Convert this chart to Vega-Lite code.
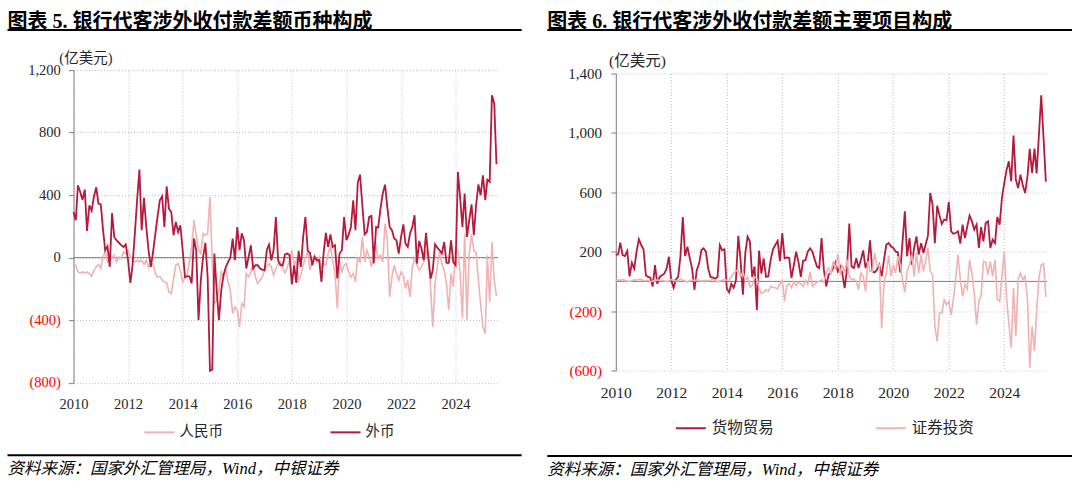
{
  "$schema": "https://vega.github.io/schema/vega-lite/v6.json",
  "background": "white",
  "padding": {"left": 7.5, "top": 11, "right": 0, "bottom": 0},
  "config": {"view": {"stroke": null}},
  "datasets": {
    "cur": [
      {"d":"2010-01","人民币":-38,"外币":292},{"d":"2010-02","人民币":-49,"外币":239},{"d":"2010-03","人民币":-92,"外币":463},{"d":"2010-04","人民币":-98,"外币":420},{"d":"2010-05","人民币":-92,"外币":370},{"d":"2010-06","人民币":-98,"外币":435},{"d":"2010-07","人民币":-92,"外币":170},{"d":"2010-08","人民币":-102,"外币":335},{"d":"2010-09","人民币":-120,"外币":300},{"d":"2010-10","人民币":-81,"外币":390},{"d":"2010-11","人民币":-60,"外币":450},{"d":"2010-12","人民币":-45,"外币":345},
      {"d":"2011-01","人民币":-70,"外币":340},{"d":"2011-02","人民币":4,"外币":175},{"d":"2011-03","人民币":36,"外币":47},{"d":"2011-04","人民币":-28,"外币":72},{"d":"2011-05","人民币":-17,"外币":-60},{"d":"2011-06","人民币":0,"外币":285},{"d":"2011-07","人民币":15,"外币":130},{"d":"2011-08","人民币":-28,"外币":110},{"d":"2011-09","人民币":4,"外币":95},{"d":"2011-10","人民币":-6,"外币":80},{"d":"2011-11","人民币":36,"外币":68},{"d":"2011-12","人民币":26,"外币":85},
      {"d":"2012-01","人民币":47,"外币":-17},{"d":"2012-02","人民币":9,"外币":-162},{"d":"2012-03","人民币":-17,"外币":-50},{"d":"2012-04","人民币":-28,"外币":155},{"d":"2012-05","人民币":-17,"外币":367},{"d":"2012-06","人民币":-28,"外币":563},{"d":"2012-07","人民币":-17,"外币":175},{"d":"2012-08","人民币":-43,"外币":382},{"d":"2012-09","人民币":-17,"外币":196},{"d":"2012-10","人民币":-60,"外币":47},{"d":"2012-11","人民币":-28,"外币":-60},{"d":"2012-12","人民币":-49,"外币":36},
      {"d":"2013-01","人民币":-102,"外币":155},{"d":"2013-02","人民币":-124,"外币":270},{"d":"2013-03","人民币":-120,"外币":367},{"d":"2013-04","人民币":-145,"外币":392},{"d":"2013-05","人民币":-156,"外币":196},{"d":"2013-06","人民币":-162,"外币":456},{"d":"2013-07","人民币":-220,"外币":313},{"d":"2013-08","人民币":-230,"外币":292},{"d":"2013-09","人民币":-134,"外币":143},{"d":"2013-10","人民币":-49,"外币":228},{"d":"2013-11","人民币":-38,"外币":164},{"d":"2013-12","人民币":-81,"外币":207},
      {"d":"2014-01","人民币":-156,"外币":47},{"d":"2014-02","人民币":-130,"外币":-124},{"d":"2014-03","人民币":-113,"外币":-120},{"d":"2014-04","人民币":-28,"外币":-120},{"d":"2014-05","人民币":68,"外币":-166},{"d":"2014-06","人民币":239,"外币":122},{"d":"2014-07","人民币":143,"外币":47},{"d":"2014-08","人民币":47,"外币":-400},{"d":"2014-09","人民币":26,"外币":-145},{"d":"2014-10","人民币":154,"外币":4},{"d":"2014-11","人民币":143,"外币":94},{"d":"2014-12","人民币":154,"外币":-124},
      {"d":"2015-01","人民币":388,"外币":-725},{"d":"2015-02","人民币":-38,"外币":-717},{"d":"2015-03","人民币":-294,"外币":26},{"d":"2015-04","人民币":-273,"外币":-209},{"d":"2015-05","人民币":-209,"外币":-400},{"d":"2015-06","人民币":-92,"外币":-209},{"d":"2015-07","人民币":-124,"外币":-113},{"d":"2015-08","人民币":-70,"外币":-60},{"d":"2015-09","人民币":-156,"外币":-28},{"d":"2015-10","人民币":-209,"外币":0},{"d":"2015-11","人民币":-358,"外币":122},{"d":"2015-12","人民币":-316,"外币":-17},
      {"d":"2016-01","人民币":-337,"外币":196},{"d":"2016-02","人民币":-444,"外币":47},{"d":"2016-03","人民币":-294,"外币":155},{"d":"2016-04","人民币":-316,"外币":110},{"d":"2016-05","人民币":-102,"外币":-70},{"d":"2016-06","人民币":-124,"外币":4},{"d":"2016-07","人民币":-92,"外币":79},{"d":"2016-08","人民币":-38,"外币":-70},{"d":"2016-09","人民币":-124,"外币":-49},{"d":"2016-10","人民币":-166,"外币":-49},{"d":"2016-11","人民币":-145,"外币":-70},{"d":"2016-12","人民币":-124,"外币":-77},
      {"d":"2017-01","人民币":-81,"外币":-81},{"d":"2017-02","人民币":-55,"外币":51},{"d":"2017-03","人民币":-38,"外币":83},{"d":"2017-04","人民币":-60,"外币":-17},{"d":"2017-05","人民币":-113,"外币":47},{"d":"2017-06","人民币":-70,"外币":260},{"d":"2017-07","人民币":-38,"外币":-17},{"d":"2017-08","人民币":-28,"外币":-49},{"d":"2017-09","人民币":-70,"外币":-49},{"d":"2017-10","人民币":-98,"外币":21},{"d":"2017-11","人民币":-60,"外币":26},{"d":"2017-12","人民币":-17,"外币":15},
      {"d":"2018-01","人民币":47,"外币":-171},{"d":"2018-02","人民币":-49,"外币":-49},{"d":"2018-03","人民币":-17,"外币":-162},{"d":"2018-04","人民币":-145,"外币":43},{"d":"2018-05","人民币":-113,"外币":-60},{"d":"2018-06","人民币":-49,"外币":132},{"d":"2018-07","人民币":-6,"外币":260},{"d":"2018-08","人民币":36,"外币":43},{"d":"2018-09","人民币":-81,"外币":30},{"d":"2018-10","人民币":-17,"外币":-49},{"d":"2018-11","人民币":15,"外币":4},{"d":"2018-12","人民币":-28,"外币":-17},
      {"d":"2019-01","人民币":4,"外币":-17},{"d":"2019-02","人民币":-60,"外币":-156},{"d":"2019-03","人民币":-38,"外币":26},{"d":"2019-04","人民币":-49,"外币":158},{"d":"2019-05","人民币":26,"外币":68},{"d":"2019-06","人民币":68,"外币":149},{"d":"2019-07","人民币":-17,"外币":68},{"d":"2019-08","人民币":-102,"外币":79},{"d":"2019-09","人民币":-326,"外币":-134},{"d":"2019-10","人民币":-17,"外币":26},{"d":"2019-11","人民币":-92,"外币":47},{"d":"2019-12","人民币":-49,"外币":260},
      {"d":"2020-01","人民币":-38,"外币":111},{"d":"2020-02","人民币":-92,"外币":147},{"d":"2020-03","人民币":-124,"外币":196},{"d":"2020-04","人民币":-102,"外币":367},{"d":"2020-05","人民币":-156,"外币":175},{"d":"2020-06","人民币":4,"外币":480},{"d":"2020-07","人民币":-34,"外币":531},{"d":"2020-08","人民币":132,"外币":335},{"d":"2020-09","人民币":-28,"外币":149},{"d":"2020-10","人民币":47,"外币":164},{"d":"2020-11","人民币":4,"外币":260},{"d":"2020-12","人民币":-60,"外币":267},
      {"d":"2021-01","人民币":26,"外币":-38},{"d":"2021-02","人民币":68,"外币":196},{"d":"2021-03","人民币":-6,"外币":192},{"d":"2021-04","人民币":15,"外币":313},{"d":"2021-05","人民币":-28,"外币":410},{"d":"2021-06","人民币":218,"外币":467},{"d":"2021-07","人民币":122,"外币":324},{"d":"2021-08","人民币":-252,"外币":196},{"d":"2021-09","人民币":-124,"外币":175},{"d":"2021-10","人民币":-49,"外币":122},{"d":"2021-11","人民币":-102,"外币":111},{"d":"2021-12","人民币":-145,"外币":26},
      {"d":"2022-01","人民币":-92,"外币":132},{"d":"2022-02","人民币":-113,"外币":213},{"d":"2022-03","人民币":-198,"外币":90},{"d":"2022-04","人民币":-145,"外币":68},{"d":"2022-05","人民币":-252,"外币":154},{"d":"2022-06","人民币":-60,"外币":196},{"d":"2022-07","人民币":-6,"外币":271},{"d":"2022-08","人民币":-49,"外币":-38},{"d":"2022-09","人民币":-81,"外币":107},{"d":"2022-10","人民币":-60,"外币":58},{"d":"2022-11","人民币":-28,"外币":-17},{"d":"2022-12","人民币":47,"外币":158},
      {"d":"2023-01","人民币":-6,"外币":4},{"d":"2023-02","人民币":-200,"外币":-134},{"d":"2023-03","人民币":-444,"外币":-81},{"d":"2023-04","人民币":-166,"外币":85},{"d":"2023-05","人民币":-60,"外币":64},{"d":"2023-06","人民币":36,"外币":47},{"d":"2023-07","人民币":-38,"外币":26},{"d":"2023-08","人民币":-81,"外币":100},{"d":"2023-09","人民币":-166,"外币":-34},{"d":"2023-10","人民币":-337,"外币":-34},{"d":"2023-11","人民币":-102,"外币":111},{"d":"2023-12","人民币":-188,"外币":-28},
      {"d":"2024-01","人民币":58,"外币":-49},{"d":"2024-02","人民币":47,"外币":548},{"d":"2024-03","人民币":-100,"外币":388},{"d":"2024-04","人民币":-390,"外币":196},{"d":"2024-05","人民币":154,"外币":410},{"d":"2024-06","人民币":-397,"外币":132},{"d":"2024-07","人民币":26,"外币":239},{"d":"2024-08","人民币":149,"外币":341},{"d":"2024-09","人民币":47,"外币":143},{"d":"2024-10","人民币":30,"外币":335},{"d":"2024-11","人民币":-145,"外币":469},{"d":"2024-12","人民币":-300,"外币":399},
      {"d":"2025-01","人民币":-444,"外币":527},{"d":"2025-02","人民币":-486,"外币":367},{"d":"2025-03","人民币":15,"外币":499},{"d":"2025-04","人民币":-284,"外币":484},{"d":"2025-05","人民币":100,"外币":1039},{"d":"2025-06","人民币":-145,"外币":986},{"d":"2025-07","人民币":-247,"外币":597}
    ],
    "item": [
      {"d":"2010-01","货物贸易":177,"证券投资":5},{"d":"2010-02","货物贸易":184,"证券投资":10},{"d":"2010-03","货物贸易":261,"证券投资":8},{"d":"2010-04","货物贸易":177,"证券投资":12},{"d":"2010-05","货物贸易":170,"证券投资":6},{"d":"2010-06","货物贸易":205,"证券投资":3},{"d":"2010-07","货物贸易":34,"证券投资":-2},{"d":"2010-08","货物贸易":125,"证券投资":5},{"d":"2010-09","货物贸易":86,"证券投资":10},{"d":"2010-10","货物贸易":200,"证券投资":8},{"d":"2010-11","货物贸易":284,"证券投资":14},{"d":"2010-12","货物贸易":245,"证券投资":12},
      {"d":"2011-01","货物贸易":216,"证券投资":6},{"d":"2011-02","货物贸易":41,"证券投资":4},{"d":"2011-03","货物贸易":30,"证券投资":8},{"d":"2011-04","货物贸易":25,"证券投资":-3},{"d":"2011-05","货物贸易":-34,"证券投资":2},{"d":"2011-06","货物贸易":109,"证券投资":5},{"d":"2011-07","货物贸易":-16,"证券投资":10},{"d":"2011-08","货物贸易":30,"证券投资":6},{"d":"2011-09","货物贸易":41,"证券投资":8},{"d":"2011-10","货物贸易":52,"证券投资":3},{"d":"2011-11","货物贸易":86,"证券投资":-2},{"d":"2011-12","货物贸易":166,"证券投资":5},
      {"d":"2012-01","货物贸易":7,"证券投资":12},{"d":"2012-02","货物贸易":-43,"证券投资":10},{"d":"2012-03","货物贸易":11,"证券投资":4},{"d":"2012-04","货物贸易":30,"证券投资":6},{"d":"2012-05","货物贸易":170,"证券投资":15},{"d":"2012-06","货物贸易":434,"证券投资":8},{"d":"2012-07","货物贸易":170,"证券投资":2},{"d":"2012-08","货物贸易":234,"证券投资":-5},{"d":"2012-09","货物贸易":155,"证券投资":6},{"d":"2012-10","货物贸易":86,"证券投资":10},{"d":"2012-11","货物贸易":-57,"证券投资":4},{"d":"2012-12","货物贸易":75,"证券投资":12},
      {"d":"2013-01","货物贸易":120,"证券投资":8},{"d":"2013-02","货物贸易":211,"证券投资":2},{"d":"2013-03","货物贸易":223,"证券投资":5},{"d":"2013-04","货物贸易":200,"证券投资":7},{"d":"2013-05","货物贸易":86,"证券投资":3},{"d":"2013-06","货物贸易":30,"证券投资":10},{"d":"2013-07","货物贸易":25,"证券投资":14},{"d":"2013-08","货物贸易":18,"证券投资":6},{"d":"2013-09","货物贸易":30,"证券投资":-4},{"d":"2013-10","货物贸易":245,"证券投资":2},{"d":"2013-11","货物贸易":211,"证券投资":8},{"d":"2013-12","货物贸易":216,"证券投资":12},
      {"d":"2014-01","货物贸易":-50,"证券投资":7},{"d":"2014-02","货物贸易":-73,"证券投资":10},{"d":"2014-03","货物贸易":-16,"证券投资":30},{"d":"2014-04","货物贸易":-43,"证券投资":57},{"d":"2014-05","货物贸易":7,"证券投资":70},{"d":"2014-06","货物贸易":307,"证券投资":75},{"d":"2014-07","货物贸易":143,"证券投资":30},{"d":"2014-08","货物贸易":-89,"证券投资":64},{"d":"2014-09","货物贸易":189,"证券投资":7},{"d":"2014-10","货物贸易":302,"证券投资":30},{"d":"2014-11","货物贸易":268,"证券投资":-39},{"d":"2014-12","货物贸易":30,"证券投资":-27},
      {"d":"2015-01","货物贸易":100,"证券投资":30},{"d":"2015-02","货物贸易":-193,"证券投资":20},{"d":"2015-03","货物贸易":207,"证券投资":-43},{"d":"2015-04","货物贸易":52,"证券投资":-80},{"d":"2015-05","货物贸易":155,"证券投资":-73},{"d":"2015-06","货物贸易":30,"证券投资":-57},{"d":"2015-07","货物贸易":34,"证券投资":-66},{"d":"2015-08","货物贸易":143,"证券投资":-34},{"d":"2015-09","货物贸易":218,"证券投资":-39},{"d":"2015-10","货物贸易":245,"证券投资":-43},{"d":"2015-11","货物贸易":273,"证券投资":-50},{"d":"2015-12","货物贸易":136,"证券投资":-16},
      {"d":"2016-01","货物贸易":325,"证券投资":7},{"d":"2016-02","货物贸易":155,"证券投资":-134},{"d":"2016-03","货物贸易":161,"证券投资":-27},{"d":"2016-04","货物贸易":159,"证券投资":-16},{"d":"2016-05","货物贸易":23,"证券投资":-43},{"d":"2016-06","货物贸易":109,"证券投资":-5},{"d":"2016-07","货物贸易":200,"证券投资":-27},{"d":"2016-08","货物贸易":132,"证券投资":-5},{"d":"2016-09","货物贸易":30,"证券投资":-16},{"d":"2016-10","货物贸易":139,"证券投资":-34},{"d":"2016-11","货物贸易":143,"证券投资":7},{"d":"2016-12","货物贸易":200,"证券投资":-20},
      {"d":"2017-01","货物贸易":223,"证券投资":64},{"d":"2017-02","货物贸易":200,"证券投资":-34},{"d":"2017-03","货物贸易":150,"证券投资":-20},{"d":"2017-04","货物贸易":101,"证券投资":-5},{"d":"2017-05","货物贸易":90,"证券投资":0},{"d":"2017-06","货物贸易":292,"证券投资":11},{"d":"2017-07","货物贸易":79,"证券投资":-7},{"d":"2017-08","货物贸易":-34,"证券投资":56},{"d":"2017-09","货物贸易":45,"证券投资":90},{"d":"2017-10","货物贸易":61,"证券投资":45},{"d":"2017-11","货物贸易":90,"证券投资":135},{"d":"2017-12","货物贸易":128,"证券投资":79},
      {"d":"2018-01","货物贸易":67,"证券投资":187},{"d":"2018-02","货物贸易":101,"证券投资":45},{"d":"2018-03","货物贸易":56,"证券投资":112},{"d":"2018-04","货物贸易":-45,"证券投资":56},{"d":"2018-05","货物贸易":79,"证券投资":146},{"d":"2018-06","货物贸易":389,"证券投资":34},{"d":"2018-07","货物贸易":101,"证券投资":11},{"d":"2018-08","货物贸易":90,"证券投资":16},{"d":"2018-09","货物贸易":157,"证券投资":0},{"d":"2018-10","货物贸易":90,"证券投资":-56},{"d":"2018-11","货物贸易":146,"证券投资":56},{"d":"2018-12","货物贸易":209,"证券投资":34},
      {"d":"2019-01","货物贸易":90,"证券投资":-67},{"d":"2019-02","货物贸易":135,"证券投资":135},{"d":"2019-03","货物贸易":276,"证券投资":67},{"d":"2019-04","货物贸易":67,"证券投资":67},{"d":"2019-05","货物贸易":61,"证券投资":191},{"d":"2019-06","货物贸易":79,"证券投资":101},{"d":"2019-07","货物贸易":112,"证券投资":112},{"d":"2019-08","货物贸易":34,"证券投资":-315},{"d":"2019-09","货物贸易":146,"证券投资":-11},{"d":"2019-10","货物贸易":247,"证券投资":56},{"d":"2019-11","货物贸易":258,"证券投资":173},{"d":"2019-12","货物贸易":236,"证券投资":34},
      {"d":"2020-01","货物贸易":225,"证券投资":112},{"d":"2020-02","货物贸易":202,"证券投资":56},{"d":"2020-03","货物贸易":196,"证券投资":169},{"d":"2020-04","货物贸易":61,"证券投资":112},{"d":"2020-05","货物贸易":263,"证券投资":11},{"d":"2020-06","货物贸易":472,"证券投资":-74},{"d":"2020-07","货物贸易":169,"证券投资":67},{"d":"2020-08","货物贸易":292,"证券投资":112},{"d":"2020-09","货物贸易":112,"证券投资":180},{"d":"2020-10","货物贸易":225,"证券投资":34},{"d":"2020-11","货物贸易":303,"证券投资":191},{"d":"2020-12","货物贸易":180,"证券投资":56},
      {"d":"2021-01","货物贸易":258,"证券投资":180},{"d":"2021-02","货物贸易":191,"证券投资":67},{"d":"2021-03","货物贸易":247,"证券投资":135},{"d":"2021-04","货物贸易":308,"证券投资":225},{"d":"2021-05","货物贸易":595,"证券投资":67},{"d":"2021-06","货物贸易":517,"证券投资":45},{"d":"2021-07","货物贸易":258,"证券投资":-303},{"d":"2021-08","货物贸易":510,"证券投资":-404},{"d":"2021-09","货物贸易":443,"证券投资":-213},{"d":"2021-10","货物贸易":386,"证券投资":-213},{"d":"2021-11","货物贸易":416,"证券投资":-124},{"d":"2021-12","货物贸易":411,"证券投资":-157},
      {"d":"2022-01","货物贸易":535,"证券投资":-135},{"d":"2022-02","货物贸易":337,"证券投资":-225},{"d":"2022-03","货物贸易":321,"证券投资":-124},{"d":"2022-04","货物贸易":326,"证券投资":16},{"d":"2022-05","货物贸易":337,"证券投资":180},{"d":"2022-06","货物贸易":254,"证券投资":11},{"d":"2022-07","货物贸易":382,"证券投资":-101},{"d":"2022-08","货物贸易":292,"证券投资":-22},{"d":"2022-09","货物贸易":371,"证券投资":-51},{"d":"2022-10","货物贸易":443,"证券投资":145},{"d":"2022-11","货物贸易":404,"证券投资":56},{"d":"2022-12","货物贸易":348,"证券投资":-78},
      {"d":"2023-01","货物贸易":382,"证券投资":-291},{"d":"2023-02","货物贸易":225,"证券投资":-134},{"d":"2023-03","货物贸易":366,"证券投资":-101},{"d":"2023-04","货物贸易":270,"证券投资":134},{"d":"2023-05","货物贸易":393,"证券投资":128},{"d":"2023-06","货物贸易":404,"证券投资":45},{"d":"2023-07","货物贸易":225,"证券投资":134},{"d":"2023-08","货物贸易":281,"证券投资":34},{"d":"2023-09","货物贸易":258,"证券投资":145},{"d":"2023-10","货物贸易":434,"证券投资":-123},{"d":"2023-11","货物贸易":382,"证券投资":-134},{"d":"2023-12","货物贸易":562,"证券投资":34},
      {"d":"2024-01","货物贸易":663,"证券投资":201},{"d":"2024-02","货物贸易":753,"证券投资":-123},{"d":"2024-03","货物贸易":809,"证券投资":-281},{"d":"2024-04","货物贸易":674,"证券投资":-447},{"d":"2024-05","货物贸易":982,"证券投资":-45},{"d":"2024-06","货物贸易":685,"证券投资":-369},{"d":"2024-07","货物贸易":629,"证券投资":11},{"d":"2024-08","货物贸易":719,"证券投资":56},{"d":"2024-09","货物贸易":645,"证券投资":11},{"d":"2024-10","货物贸易":595,"证券投资":34},{"d":"2024-11","货物贸易":708,"证券投资":-123},{"d":"2024-12","货物贸易":892,"证券投资":-582},
      {"d":"2025-01","货物贸易":730,"证券投资":-302},{"d":"2025-02","货物贸易":895,"证券投资":-470},{"d":"2025-03","货物贸易":727,"证券投资":-200},{"d":"2025-04","货物贸易":990,"证券投资":20},{"d":"2025-05","货物贸易":1253,"证券投资":112},{"d":"2025-06","货物贸易":960,"证券投资":119},{"d":"2025-07","货物贸易":671,"证券投资":-105}
    ]
  },
  "spacing": 24.3,
  "resolve": {"scale": {"color": "independent"}, "legend": {"color": "independent"}},
  "hconcat": [
    {
      "spacing": 15.1,
      "resolve": {"scale": {"color": "independent", "x": "independent"}, "legend": {"color": "independent"}},
      "vconcat": [
        {
          "width": 448.2,
          "height": 2,
          "data": {"values": [{}]},
          "mark": {"type": "rect", "color": "#000000", "xOffset": -66},
          "encoding": {
            "x": {"datum": 0, "type": "quantitative", "scale": {"domain": [0, 1]}, "axis": null},
            "x2": {"datum": 1}
          },
          "title": {"text": "图表 5. 银行代客涉外收付款差额币种构成", "anchor": "start", "frame": "bounds", "baseline": "top", "offset": -2.6, "font": "Liberation Serif, Noto Sans CJK SC", "fontSize": 20, "fontWeight": "bold", "color": "#000000"}
        },
        {
          "width": 424.4,
          "height": 312.5,
          "layer": [
            {
              "data": {"values": [{}]},
              "mark": {"type": "rule", "color": "#808080", "strokeWidth": 1},
              "encoding": {"y": {"datum": 0, "type": "quantitative", "title": "(亿美元)"}}
            },
            {
              "data": {"name": "cur"},
              "mark": {"type": "line", "strokeWidth": 1.6},
              "encoding": {
                "x": {
                  "field": "d", "type": "temporal",
                  "scale": {"type": "utc", "domain": [{"year": 2010, "month": 1, "date": 1, "utc": true}, {"year": 2025, "month": 7, "date": 20, "utc": true}]},
                  "axis": {"format": "%Y", "tickCount": {"interval": "year", "step": 2}, "grid": true, "gridColor": "#BFBFBF", "gridDash": [1, 2], "domain": false, "ticks": false, "tickSize": 0, "labelFlush": false, "labelPadding": 15, "labelFont": "Liberation Serif", "labelFontSize": 14.5, "labelColor": "#262626", "labelAngle": 0, "title": "·", "titleOpacity": 0, "titleFontSize": 2, "titleAlign": "left", "titleBaseline": "top", "titleX": -66, "titleY": -334.8}
                },
                "y": {
                  "field": "人民币", "type": "quantitative", "title": "(亿美元)",
                  "scale": {"domain": [-800, 1200], "nice": false},
                  "axis": {"values": [-800, -400, 0, 400, 800, 1200], "labelExpr": "datum.value < 0 ? '(' + format(-datum.value, ',') + ')' : format(datum.value, ',') + '\u2009'", "labelColor": {"condition": {"test": "datum.value < 0", "value": "#FF0000"}, "value": "#262626"}, "labelFont": "Liberation Serif", "labelFontSize": 14.5, "labelPadding": 8.2, "tickSize": 5, "tickColor": "#808080", "domainColor": "#808080", "grid": true, "gridColor": "#BFBFBF", "gridDash": [1, 2], "titleAngle": 0, "titleAlign": "left", "titleBaseline": "alphabetic", "titleX": -14.7, "titleY": -7.5, "titleFont": "Liberation Serif, Noto Sans CJK SC", "titleFontSize": 14.5, "titleFontWeight": "normal", "titleColor": "#262626"}
                },
                "color": {
                  "datum": "人民币", "type": "nominal",
                  "scale": {"domain": ["人民币", "外币"], "range": ["#F0B2B2", "#B5193C"]},
                  "legend": {"orient": "none", "legendX": 70, "legendY": 346, "direction": "horizontal", "title": null, "symbolType": "stroke", "symbolSize": 900, "symbolStrokeWidth": 2, "labelFont": "Noto Sans CJK SC", "labelFontSize": 14.5, "labelColor": "#262626", "labelOffset": 4, "columnPadding": 103, "padding": 0}
                }
              }
            },
            {
              "data": {"name": "cur"},
              "mark": {"type": "line", "strokeWidth": 1.8},
              "encoding": {
                "x": {"field": "d", "type": "temporal", "scale": {"type": "utc", "domain": [{"year": 2010, "month": 1, "date": 1, "utc": true}, {"year": 2025, "month": 7, "date": 20, "utc": true}]}},
                "y": {"field": "外币", "type": "quantitative", "title": "(亿美元)"},
                "color": {"datum": "外币", "type": "nominal"}
              }
            }
          ]
        },
        {
          "width": 448.2,
          "height": 2,
          "data": {"values": [{}]},
          "mark": {"type": "rect", "color": "#000000", "xOffset": -66},
          "encoding": {
            "x": {"datum": 0, "type": "quantitative", "scale": {"domain": [0, 1]}, "axis": null},
            "x2": {"datum": 1}
          },
          "title": {"text": "资料来源：国家外汇管理局，Wind，中银证券", "orient": "bottom", "anchor": "start", "frame": "bounds", "baseline": "top", "offset": 5.1, "font": "Liberation Serif, Noto Sans CJK SC", "fontSize": 16.5, "fontStyle": "italic", "fontWeight": "normal", "color": "#000000"}
        }
      ]
    },
    {
      "spacing": 17.5,
      "resolve": {"scale": {"color": "independent", "x": "independent"}, "legend": {"color": "independent"}},
      "vconcat": [
        {
          "width": 456.2,
          "height": 2,
          "data": {"values": [{}]},
          "mark": {"type": "rect", "color": "#000000", "xOffset": -68.5},
          "encoding": {
            "x": {"datum": 0, "type": "quantitative", "scale": {"domain": [0, 1]}, "axis": null},
            "x2": {"datum": 1}
          },
          "title": {"text": "图表 6. 银行代客涉外收付款差额主要项目构成", "anchor": "start", "frame": "bounds", "baseline": "top", "offset": -2.6, "font": "Liberation Serif, Noto Sans CJK SC", "fontSize": 20, "fontWeight": "bold", "color": "#000000"}
        },
        {
          "width": 431.5,
          "height": 297,
          "layer": [
            {
              "data": {"values": [{}]},
              "mark": {"type": "rule", "color": "#808080", "strokeWidth": 1},
              "encoding": {"y": {"datum": 0, "type": "quantitative", "title": "(亿美元)"}}
            },
            {
              "data": {"name": "item"},
              "mark": {"type": "line", "strokeWidth": 1.8},
              "encoding": {
                "x": {
                  "field": "d", "type": "temporal",
                  "scale": {"type": "utc", "domain": [{"year": 2010, "month": 1, "date": 1, "utc": true}, {"year": 2025, "month": 7, "date": 20, "utc": true}]},
                  "axis": {"format": "%Y", "tickCount": {"interval": "year", "step": 2}, "grid": true, "gridColor": "#BFBFBF", "gridDash": [1, 2], "domain": false, "ticks": false, "tickSize": 0, "labelFlush": false, "labelPadding": 15, "labelFont": "Liberation Serif", "labelFontSize": 15.5, "labelColor": "#262626", "labelAngle": 0, "title": "·", "titleOpacity": 0, "titleFontSize": 2, "titleAlign": "left", "titleBaseline": "top", "titleX": -68.5, "titleY": -320.3}
                },
                "y": {
                  "field": "货物贸易", "type": "quantitative", "title": "(亿美元)",
                  "scale": {"domain": [-600, 1400], "nice": false},
                  "axis": {"values": [-600, -200, 200, 600, 1000, 1400], "labelExpr": "datum.value < 0 ? '(' + format(-datum.value, ',') + ')' : format(datum.value, ',') + '\u2009'", "labelColor": {"condition": {"test": "datum.value < 0", "value": "#FF0000"}, "value": "#262626"}, "labelFont": "Liberation Serif", "labelFontSize": 15, "labelPadding": 9.2, "tickSize": 5, "tickColor": "#808080", "domainColor": "#808080", "grid": true, "gridColor": "#BFBFBF", "gridDash": [1, 2], "titleAngle": 0, "titleAlign": "left", "titleBaseline": "alphabetic", "titleX": -7.3, "titleY": -8.1, "titleFont": "Liberation Serif, Noto Sans CJK SC", "titleFontSize": 15.5, "titleFontWeight": "normal", "titleColor": "#262626"}
                },
                "color": {
                  "datum": "货物贸易", "type": "nominal",
                  "scale": {"domain": ["货物贸易", "证券投资"], "range": ["#B5193C", "#F0B2B2"]},
                  "legend": {"orient": "none", "legendX": 59, "legendY": 338.5, "direction": "horizontal", "title": null, "symbolType": "stroke", "symbolSize": 900, "symbolStrokeWidth": 2, "labelFont": "Noto Sans CJK SC", "labelFontSize": 15.5, "labelColor": "#262626", "labelOffset": 5, "columnPadding": 97, "padding": 0}
                }
              }
            },
            {
              "data": {"name": "item"},
              "mark": {"type": "line", "strokeWidth": 1.6},
              "encoding": {
                "x": {"field": "d", "type": "temporal", "scale": {"type": "utc", "domain": [{"year": 2010, "month": 1, "date": 1, "utc": true}, {"year": 2025, "month": 7, "date": 20, "utc": true}]}},
                "y": {"field": "证券投资", "type": "quantitative", "title": "(亿美元)"},
                "color": {"datum": "证券投资", "type": "nominal"}
              }
            }
          ]
        },
        {
          "width": 456.2,
          "height": 2,
          "data": {"values": [{}]},
          "mark": {"type": "rect", "color": "#000000", "xOffset": -68.5},
          "encoding": {
            "x": {"datum": 0, "type": "quantitative", "scale": {"domain": [0, 1]}, "axis": null},
            "x2": {"datum": 1}
          },
          "title": {"text": "资料来源：国家外汇管理局，Wind，中银证券", "orient": "bottom", "anchor": "start", "frame": "bounds", "baseline": "top", "offset": 5.1, "font": "Liberation Serif, Noto Sans CJK SC", "fontSize": 16.5, "fontStyle": "italic", "fontWeight": "normal", "color": "#000000"}
        }
      ]
    }
  ]
}
